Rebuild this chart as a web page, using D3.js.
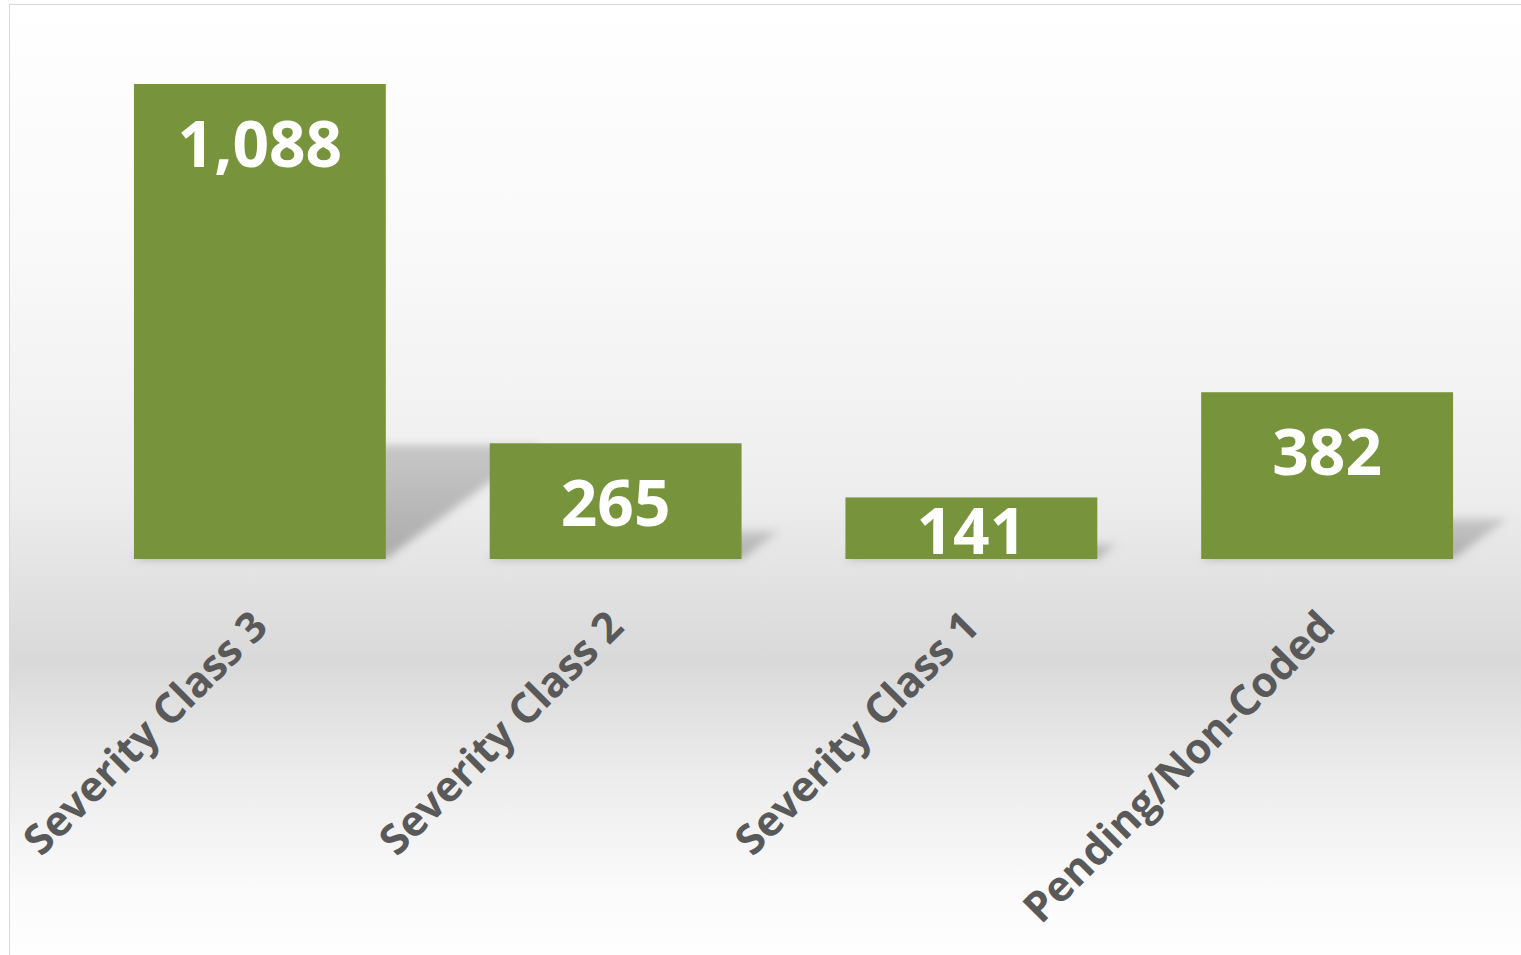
<!DOCTYPE html>
<html>
<head>
<meta charset="utf-8">
<script src="https://cdn.jsdelivr.net/npm/d3@7"></script>
<style>
  html, body { margin: 0; padding: 0; background: #fff; }
  svg { display: block; }
</style>
</head>
<body>
<svg id="area" width="1521" height="955"></svg>
<script>
// data
const categories = ['Severity Class 3', 'Severity Class 2', 'Severity Class 1', 'Pending/Non-Coded'];
const counts = [1088, 265, 141, 382];
const yMax = 1200;

const width = 1521;
const height = 955;
const baseline = 559;

const svg = d3.select('#area');

// chart area background, vertical grey band like the excel style
const defs = svg.append('defs');
const grad = defs.append('linearGradient')
  .attr('id', 'bg')
  .attr('x1', 0).attr('y1', 0)
  .attr('x2', 0).attr('y2', 1);
[
  [0, '#ffffff'],
  [0.28, '#f8f8f8'],
  [0.5, '#eeeeee'],
  [0.6, '#e2e2e2'],
  [0.68, '#d9d9d9'],
  [0.8, '#ececec'],
  [0.92, '#fbfbfb'],
  [1, '#ffffff'],
].forEach((s) => {
  grad.append('stop').attr('offset', s[0]).attr('stop-color', s[1]);
});

const blur = defs.append('filter')
  .attr('id', 'blur')
  .attr('x', '-20%').attr('y', '-20%')
  .attr('width', '140%').attr('height', '140%');
blur.append('feGaussianBlur').attr('stdDeviation', 4);

const shadowGrad = defs.append('linearGradient')
  .attr('id', 'shade')
  .attr('x1', 0).attr('y1', 1)
  .attr('x2', 0).attr('y2', 0);
shadowGrad.append('stop').attr('offset', 0).attr('stop-color', '#a8a8a8');
shadowGrad.append('stop').attr('offset', 1).attr('stop-color', '#c4c4c4');

svg.append('rect')
  .attr('x', 9.5)
  .attr('y', 4.5)
  .attr('width', width + 10)
  .attr('height', height + 10)
  .attr('fill', 'url(#bg)')
  .attr('stroke', '#d9d9d9')
  .attr('stroke-width', 1);

const x = d3.scaleBand()
  .domain(categories)
  .range([82, 1505])
  .paddingInner(0.292)
  .paddingOuter(0.146);

const y = d3.scaleLinear()
  .domain([0, yMax])
  .range([baseline, baseline - (yMax * 475) / 1088]);

const data = categories.map((c, i) => ({ name: c, value: counts[i] }));

// perspective shadows falling back to the right
const skew = 1.35;
svg.append('g')
  .attr('filter', 'url(#blur)')
  .selectAll('path')
  .data(data)
  .join('path')
  .attr('d', (d) => {
    const x0 = x(d.name);
    const x1 = x0 + x.bandwidth();
    const h = (baseline - y(d.value)) * 0.24;
    const s = h * skew;
    return `M${x0},${baseline}L${x1},${baseline}L${x1 + s},${baseline - h}L${x0 + s},${baseline - h}Z`;
  })
  .attr('fill', 'url(#shade)')
  .attr('opacity', 0.95);

svg.append('g')
  .selectAll('rect')
  .data(data)
  .join('rect')
  .attr('x', (d) => x(d.name))
  .attr('y', (d) => y(d.value))
  .attr('width', x.bandwidth())
  .attr('height', (d) => baseline - y(d.value))
  .attr('fill', '#77933c');

// value labels, inside end
svg.append('g')
  .selectAll('text')
  .data(data)
  .join('text')
  .attr('x', (d) => x(d.name) + x.bandwidth() / 2)
  .attr('y', (d) => {
    const top = y(d.value);
    const h = baseline - top;
    return Math.min(top + 59.5, top + h / 2 + 3);
  })
  .attr('dy', '0.36em')
  .attr('text-anchor', 'middle')
  .attr('fill', '#ffffff')
  .style('font-family', 'Open Sans, sans-serif')
  .style('font-weight', 700)
  .style('font-size', '64px')
  .text((d) => d3.format(',')(d.value));

// category axis, labels turned 45 degrees
const xAxis = d3.axisBottom(x).tickSize(0).tickPadding(0);
const gx = svg.append('g')
  .attr('transform', `translate(0, ${baseline})`)
  .call(xAxis);
gx.select('.domain').remove();
gx.selectAll('text')
  .attr('fill', '#595959')
  .style('font-family', 'Open Sans, sans-serif')
  .style('font-weight', 700)
  .style('font-size', '42px')
  .style('text-anchor', 'end')
  .attr('dy', 0)
  .attr('transform', 'translate(10, 70) rotate(-45)');
</script>
</body>
</html>
